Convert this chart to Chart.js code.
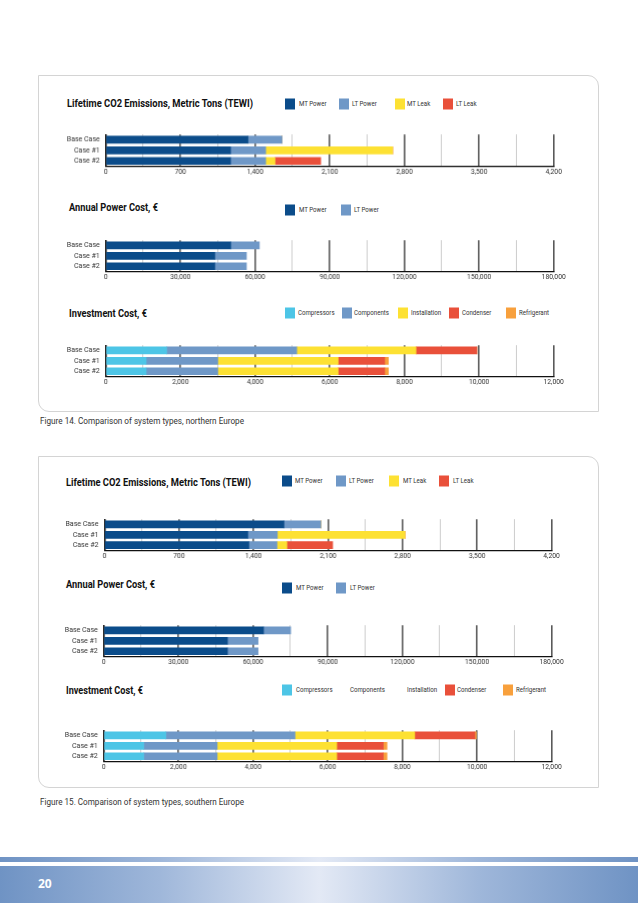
<!DOCTYPE html>
<html>
<head>
<meta charset="utf-8">
<script src="https://cdn.jsdelivr.net/npm/chart.js@4.4.1/dist/chart.umd.min.js"></script>
<style>
body { margin:0; width:638px; height:903px; position:relative; background:#fff; overflow:hidden;
  font-family:'Roboto',sans-serif; }
.panel { position:absolute; left:38px; width:561px; border:1px solid #d4d4d4; border-radius:0 11px 0 11px; box-sizing:border-box; }
.title { position:absolute; font-weight:bold; font-size:10.5px; color:#111; white-space:nowrap; transform-origin:0 50%; }
.lg-box { position:absolute; width:10px; height:11px; transform:translateY(-50%); }
.lg-text { position:absolute; font-size:6.8px; color:#333; white-space:nowrap; transform-origin:0 50%; transform:translateY(-50%) scaleX(0.9); }
.chart { position:absolute; left:40px; }
.caption { position:absolute; left:40px; font-size:8.5px; color:#333; white-space:nowrap; transform-origin:0 50%; }
.stripe { position:absolute; left:0; width:638px;
  background:linear-gradient(to right,#6f93c4 0%,#9fb7da 25%,#e3e9f5 50%,#9fb7da 75%,#6f93c4 100%); }
.pageno { position:absolute; left:38px; top:883px; transform:translateY(-50%); color:#fff; font-weight:bold; font-size:12px; font-family:'Open Sans',sans-serif; }
</style>
</head>
<body>

<div class="panel" style="top:75px;height:337px;"></div>
<div class="panel" style="top:456px;height:332px;"></div>
<div class="stripe" style="top:857px;height:5px;"></div>
<div class="stripe" style="top:866px;height:37px;"></div>
<div class="pageno">20</div>

<script>
// categories
const caseLabels = ['Base Case', 'Case #1', 'Case #2'];

// tick labels for each kind of chart
const tewiTicks = [0, 700, 1400, 2100, 2800, 3500, 4200];
const powerTicks = [0, 30000, 60000, 90000, 120000, 150000, 180000];
const investTicks = [0, 2000, 4000, 6000, 8000, 10000, 12000];

// northern Europe - lifetime CO2 emissions (TEWI)
const northTewiMtPower = [1333, 1170, 1170];
const northTewiLtPower = [319, 329, 329];
const northTewiMtLeak = [0, 1191, 87];
const northTewiLtLeak = [0, 0, 429];

// northern Europe - annual power cost
const northPowerMt = [50200, 43800, 43800];
const northPowerLt = [11500, 12700, 12700];

// northern Europe - investment cost
const northInvCompressors = [1630, 1080, 1080];
const northInvComponents = [3485, 1920, 1920];
const northInvInstallation = [3195, 3225, 3225];
const northInvCondenser = [1630, 1245, 1245];
const northInvRefrigerant = [0, 100, 100];

// southern Europe - lifetime CO2 emissions (TEWI)
const southTewiMtPower = [1686, 1346, 1356];
const southTewiLtPower = [346, 277, 264];
const southTewiMtLeak = [0, 1200, 93];
const southTewiLtLeak = [0, 0, 430];

// southern Europe - annual power cost
const southPowerMt = [64200, 49700, 49700];
const southPowerLt = [10900, 12300, 12300];

// southern Europe - investment cost
const southInvCompressors = [1662, 1068, 1068];
const southInvComponents = [3462, 1969, 1969];
const southInvInstallation = [3206, 3205, 3205];
const southInvCondenser = [1612, 1247, 1247];
const southInvRefrigerant = [40, 99, 99];

const COL = {
    mt: '#0b4c8a',
    lt: '#6f98c7',
    yellow: '#fde133',
    red: '#e9503a',
    cyan: '#4dc5e6',
    orange: '#f8a03c'
};

const FONT = "'Roboto', sans-serif";

function addText(cls, text, x, y) {
    const el = document.createElement('div');
    el.className = cls;
    el.textContent = text;
    el.style.left = x + 'px';
    el.style.top = y + 'px';
    document.body.appendChild(el);
    return el;
}

// squeeze a text to the width it has in the picture (narrow print font)
function fitText(el, width) {
    const w = el.getBoundingClientRect().width;
    el.style.transform = 'translateY(-50%) scaleX(' + (width / w) + ')';
}

// legend: items = [label, colour or null, boxX, textX]
function addLegend(items, y) {
    items.forEach(item => {
        if (item[1]) {
            const box = document.createElement('div');
            box.className = 'lg-box';
            box.style.background = item[1];
            box.style.left = item[2] + 'px';
            box.style.top = y + 'px';
            document.body.appendChild(box);
        }
        addText('lg-text', item[0], item[3], y);
    });
}

// area = chart area on the page
function drawChart(area, ticks, datasets) {
    const padRight = 18;
    const axisH = 14;
    const wrap = document.createElement('div');
    wrap.className = 'chart';
    wrap.style.top = area.top + 'px';
    wrap.style.width = (area.right - 40 + padRight) + 'px';
    wrap.style.height = (area.bottom - area.top + axisH) + 'px';
    const canvas = document.createElement('canvas');
    wrap.appendChild(canvas);
    document.body.appendChild(wrap);

    const step = (ticks[1] - ticks[0]) / 2;

    new Chart(canvas, {
        type: 'bar',
        data: {
            labels: caseLabels,
            datasets: datasets.map(d => ({
                label: d[0],
                data: d[1],
                backgroundColor: d[2],
                barThickness: 7,
                borderWidth: 0
            }))
        },
        options: {
            indexAxis: 'y',
            responsive: true,
            maintainAspectRatio: false,
            animation: false,
            layout: { padding: { top: 0, left: 0, right: padRight, bottom: 0 } },
            plugins: { legend: { display: false }, tooltip: { enabled: false } },
            scales: {
                x: {
                    stacked: true,
                    min: ticks[0],
                    max: ticks[ticks.length - 1],
                    afterFit: scale => { scale.height = axisH; },
                    ticks: {
                        stepSize: step,
                        autoSkip: false,
                        maxRotation: 0,
                        padding: 2,
                        color: '#333',
                        font: { family: FONT, size: 6.8 },
                        callback: (v, i) => (i % 2 === 0 ? v.toLocaleString('en-US') : '')
                    },
                    grid: {
                        drawTicks: false,
                        color: ctx => (ctx.index % 2 === 0 ? '#5a5a5a' : '#cccccc'),
                        lineWidth: ctx => (ctx.index % 2 === 0 ? 1.6 : 1)
                    },
                    border: { display: true, color: '#111', width: 1.3 }
                },
                y: {
                    stacked: true,
                    afterFit: scale => { scale.width = area.left - 40; },
                    ticks: {
                        autoSkip: false,
                        padding: 6,
                        color: '#333',
                        font: { family: FONT, size: 7 }
                    },
                    grid: { display: false, drawTicks: false },
                    border: { display: true, color: '#111', width: 1.3 }
                }
            }
        }
    });
}

// captions
fitText(addText('caption', 'Figure 14. Comparison of system types, northern Europe', 40, 421), 204);
fitText(addText('caption', 'Figure 15. Comparison of system types, southern Europe', 40, 802), 204);

// ---------- northern Europe ----------
fitText(addText('title', 'Lifetime CO2 Emissions, Metric Tons (TEWI)', 67, 103), 186);
addLegend([
    ['MT Power', COL.mt, 285, 299],
    ['LT Power', COL.lt, 339, 352],
    ['MT Leak', COL.yellow, 395, 407],
    ['LT Leak', COL.red, 443, 456]
], 104);
drawChart({ left: 105.7, right: 552.7, top: 124, bottom: 165.5 }, tewiTicks, [
    ['MT Power', northTewiMtPower, COL.mt],
    ['LT Power', northTewiLtPower, COL.lt],
    ['MT Leak', northTewiMtLeak, COL.yellow],
    ['LT Leak', northTewiLtLeak, COL.red]
]);

fitText(addText('title', 'Annual Power Cost, €', 69, 207), 89);
addLegend([
    ['MT Power', COL.mt, 285, 299],
    ['LT Power', COL.lt, 341, 354]
], 210);
drawChart({ left: 105.7, right: 552.7, top: 229.5, bottom: 271 }, powerTicks, [
    ['MT Power', northPowerMt, COL.mt],
    ['LT Power', northPowerLt, COL.lt]
]);

fitText(addText('title', 'Investment Cost, €', 69, 313), 78);
addLegend([
    ['Compressors', COL.cyan, 285, 298],
    ['Components', COL.lt, 342, 354],
    ['Installation', COL.yellow, 398, 411],
    ['Condenser', COL.red, 449, 462],
    ['Refrigerant', COL.orange, 506, 519]
], 313);
drawChart({ left: 105.7, right: 552.7, top: 334.5, bottom: 376 }, investTicks, [
    ['Compressors', northInvCompressors, COL.cyan],
    ['Components', northInvComponents, COL.lt],
    ['Installation', northInvInstallation, COL.yellow],
    ['Condenser', northInvCondenser, COL.red],
    ['Refrigerant', northInvRefrigerant, COL.orange]
]);

// ---------- southern Europe ----------
fitText(addText('title', 'Lifetime CO2 Emissions, Metric Tons (TEWI)', 66, 482), 185);
addLegend([
    ['MT Power', COL.mt, 282, 295],
    ['LT Power', COL.lt, 336, 349],
    ['MT Leak', COL.yellow, 389, 403],
    ['LT Leak', COL.red, 439, 453]
], 481);
drawChart({ left: 104.4, right: 550.6, top: 508.6, bottom: 550 }, tewiTicks, [
    ['MT Power', southTewiMtPower, COL.mt],
    ['LT Power', southTewiLtPower, COL.lt],
    ['MT Leak', southTewiMtLeak, COL.yellow],
    ['LT Leak', southTewiLtLeak, COL.red]
]);

fitText(addText('title', 'Annual Power Cost, €', 66, 584), 89);
addLegend([
    ['MT Power', COL.mt, 282, 296],
    ['LT Power', COL.lt, 336, 350]
], 588);
drawChart({ left: 103.7, right: 550.6, top: 614.5, bottom: 656 }, powerTicks, [
    ['MT Power', southPowerMt, COL.mt],
    ['LT Power', southPowerLt, COL.lt]
]);

fitText(addText('title', 'Investment Cost, €', 66, 690), 77);
addLegend([
    ['Compressors', COL.cyan, 282, 296],
    ['Components', null, 0, 350],
    ['Installation', null, 0, 407],
    ['Condenser', COL.red, 445, 457],
    ['Refrigerant', COL.orange, 503, 516]
], 690);
drawChart({ left: 103.7, right: 550.6, top: 719.5, bottom: 761 }, investTicks, [
    ['Compressors', southInvCompressors, COL.cyan],
    ['Components', southInvComponents, COL.lt],
    ['Installation', southInvInstallation, COL.yellow],
    ['Condenser', southInvCondenser, COL.red],
    ['Refrigerant', southInvRefrigerant, COL.orange]
]);
</script>
</body>
</html>
